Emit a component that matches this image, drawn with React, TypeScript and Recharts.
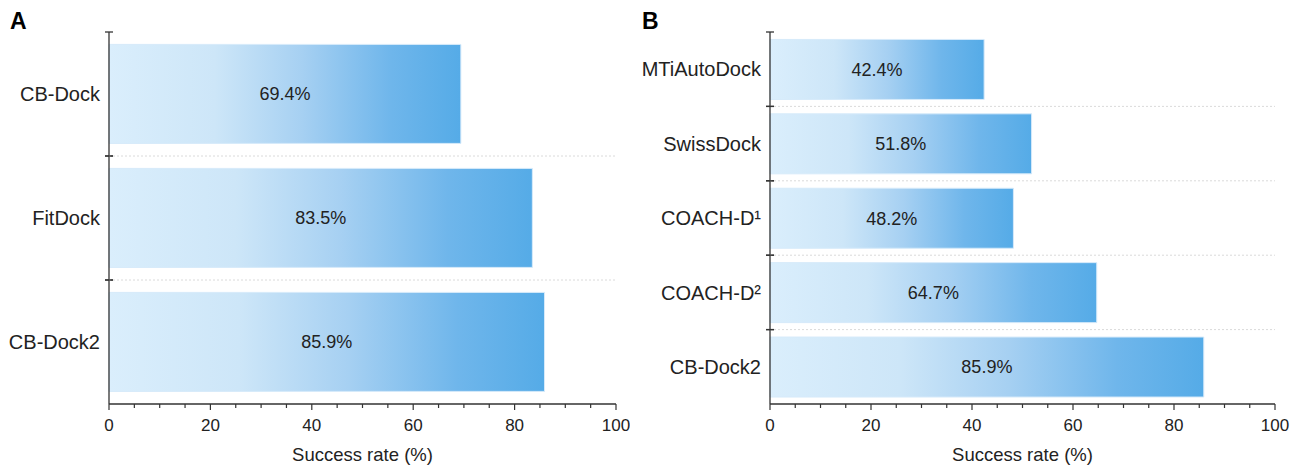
import { BarChart, Bar, XAxis, YAxis, LabelList } from "recharts"

const toolsA = ["CB-Dock", "FitDock", "CB-Dock2"]
const ratesA = [69.4, 83.5, 85.9]

const toolsB = ["MTiAutoDock", "SwissDock", "COACH-D¹", "COACH-D²", "CB-Dock2"]
const ratesB = [42.4, 51.8, 48.2, 64.7, 85.9]

const xTicks = [0, 5, 10, 15, 20, 25, 30, 35, 40, 45, 50, 55, 60, 65, 70, 75, 80, 85, 90, 95, 100]
const xLabelTicks = [0, 20, 40, 60, 80, 100]

const FONT = "'Liberation Sans', Arial, sans-serif"
const INK = "#222"
const H = 467
const TOP = 32
const BOTTOM = 5
const XAXIS_H = 58

const XTick = (props: any) => {
  const { x, y, payload } = props
  const major = xLabelTicks.includes(payload.value)
  return (
    <g>
      <line x1={x} x2={x} y1={y} y2={y + (major ? 6 : 4)} stroke="#333" strokeWidth={1.2} />
      {major && (
        <text x={x} y={y + 27} textAnchor="middle" fontSize={17} fill={INK} fontFamily={FONT}>
          {payload.value}
        </text>
      )}
    </g>
  )
}

// category label + tick marks at the band edges + dashed separators
const YTick = (props: any) => {
  const { x, y, payload, index, count, half, plotW } = props
  const h = payload.offset || half
  const top = y - h
  const bottom = y + h
  return (
    <g>
      <text x={x - 9} y={y} dy="0.36em" textAnchor="end" fontSize={20} fill={INK} fontFamily={FONT}>
        {payload.value}
      </text>
      {index > 0 && (
        <line x1={x} x2={x + plotW} y1={top} y2={top} stroke="#dadada" strokeWidth={1} strokeDasharray="2 2" />
      )}
      <line x1={x - 4} x2={x + 4} y1={top} y2={top} stroke="#333" strokeWidth={1.3} />
      {index < count - 1 && (
        <line x1={x - 4} x2={x + 4} y1={bottom} y2={bottom} stroke="#333" strokeWidth={1.3} />
      )}
    </g>
  )
}

function Panel({
  letter,
  letterLeft,
  tools,
  rates,
  left,
  width,
  yWidth,
  marginLeft,
  marginRight,
  gradId,
}: {
  letter: string
  letterLeft: number
  tools: string[]
  rates: number[]
  left: number
  width: number
  yWidth: number
  marginLeft: number
  marginRight: number
  gradId: string
}) {
  const data = tools.map((t, i) => ({ tool: t, rate: rates[i] }))
  const plotW = width - marginLeft - yWidth - marginRight
  const plotH = H - TOP - BOTTOM - XAXIS_H
  const half = plotH / tools.length / 2
  return (
    <div style={{ position: "absolute", left, top: 0, width, height: H }}>
      <div
        style={{
          position: "absolute",
          left: letterLeft,
          top: 8,
          fontFamily: FONT,
          fontWeight: "bold",
          fontSize: 23,
          color: "#000",
        }}
      >
        {letter}
      </div>
      <BarChart
        width={width}
        height={H}
        data={data}
        layout="vertical"
        margin={{ top: TOP, right: marginRight, bottom: BOTTOM, left: marginLeft }}
        barCategoryGap="10%"
      >
        <defs>
          <linearGradient id={gradId} x1="0" y1="0" x2="1" y2="0">
            <stop offset="0" stopColor="#daeefc" />
            <stop offset="0.3" stopColor="#cde6f8" />
            <stop offset="0.55" stopColor="#a6d0f2" />
            <stop offset="0.8" stopColor="#6fb6eb" />
            <stop offset="1" stopColor="#55abe7" />
          </linearGradient>
        </defs>
        <XAxis
          type="number"
          domain={[0, 100]}
          ticks={xTicks}
          interval={0}
          tickSize={0}
          tickMargin={0}
          tickLine={false}
          tick={<XTick />}
          height={XAXIS_H}
          axisLine={{ stroke: "#333", strokeWidth: 1.3 }}
          label={{
            value: "Success rate (%)",
            position: "insideBottom",
            offset: 1,
            fontSize: 18.5,
            fill: INK,
            fontFamily: FONT,
          }}
        />
        <YAxis
          type="category"
          dataKey="tool"
          width={yWidth}
          interval={0}
          tickLine={false}
          tickSize={0}
          tickMargin={0}
          axisLine={{ stroke: "#333", strokeWidth: 1.3 }}
          tick={<YTick count={tools.length} half={half} plotW={plotW} />}
        />
        <Bar dataKey="rate" fill={`url(#${gradId})`} stroke="#d6eafa" strokeWidth={1} isAnimationActive={false}>
          <LabelList
            dataKey="rate"
            position="center"
            formatter={(v: any) => `${v}%`}
            fill={INK}
            fontSize={18}
            fontFamily={FONT}
          />
        </Bar>
      </BarChart>
    </div>
  )
}

export default function App() {
  return (
    <div style={{ position: "absolute", left: 0, top: 0, width: 1292, height: 467, background: "#fff" }}>
      <Panel
        letter="A"
        letterLeft={10}
        tools={toolsA}
        rates={ratesA}
        left={0}
        width={630}
        yWidth={100}
        marginLeft={9}
        marginRight={14}
        gradId="gradA"
      />
      <Panel
        letter="B"
        letterLeft={12}
        tools={toolsB}
        rates={ratesB}
        left={630}
        width={662}
        yWidth={120}
        marginLeft={20}
        marginRight={17}
        gradId="gradB"
      />
    </div>
  )
}
